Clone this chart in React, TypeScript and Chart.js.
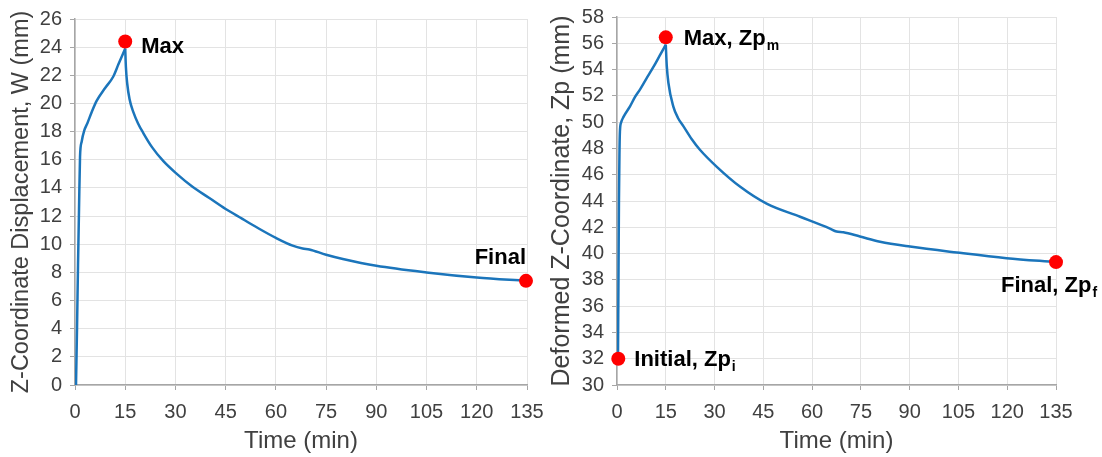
import React, { useEffect, useRef } from "react";
import { Chart, registerables } from "chart.js";

Chart.register(...registerables);
Chart.defaults.font.family = '"Liberation Sans", Arial, Helvetica, sans-serif';

// ---------- data ----------
const xTicksStep = 15;

const timeW = [0.3, 0.6, 0.9, 1.2, 1.5, 2.0, 2.8, 3.7, 5, 6.5, 9, 11.4, 13, 15, 15.2, 15.6, 16.3, 17.4, 18.8, 20.4, 23, 26.4, 30.4, 35, 40, 45, 50, 55, 60, 65, 68, 70, 75, 80, 90, 105, 120, 134.7];
const dispW = [0, 4, 8.5, 12.5, 16.2, 17.3, 18.1, 18.6, 19.4, 20.2, 21.1, 21.9, 22.8, 23.9, 22.6, 21.4, 20.3, 19.4, 18.6, 17.9, 16.9, 15.9, 15.0, 14.1, 13.3, 12.5, 11.8, 11.1, 10.45, 9.9, 9.7, 9.63, 9.25, 8.95, 8.47, 8.0, 7.64, 7.4];

const timeZp = [0.3, 0.45, 0.6, 0.75, 0.9, 1.3, 2, 4, 5.5, 7.1, 9, 11.2, 13, 15, 15.3, 15.8, 17.3, 18.8, 20.4, 23, 25.5, 30.7, 37.8, 46, 56.3, 65.5, 67.5, 69.6, 74.7, 80.9, 90.1, 104.5, 119.8, 135];
const valZp = [32, 38, 44, 47.5, 49.3, 50, 50.4, 51.2, 51.9, 52.5, 53.3, 54.2, 55, 55.9, 54.3, 53, 51.2, 50.3, 49.7, 48.7, 47.9, 46.6, 45.1, 43.8, 42.8, 41.9, 41.68, 41.62, 41.3, 40.9, 40.53, 40.08, 39.65, 39.35];

const markersW = [
  { x: 15, y: 24.4 },
  { x: 134.7, y: 7.4 },
];
const labelsW = ["Max", "Final"];
const subsW = ["", ""];

const markersZp = [
  { x: 0.4, y: 32 },
  { x: 15, y: 56.45 },
  { x: 135, y: 39.35 },
];
const labelsZp = ["Initial, Zp", "Max, Zp", "Final, Zp"];
const subsZp = ["i", "m", "f"];

// ---------- styles / placement (not data) ----------
const labelOffsetsW = [
  { dx: 16, dy: 11.5, align: "left" },
  { dx: 0, dy: -17, align: "right" },
];
const labelOffsetsZp = [
  { dx: 16, dy: 7.5, align: "left" },
  { dx: 18, dy: 8, align: "left" },
  { dx: -55, dy: 29.5, align: "left" },
];

const TEXT = "#404040";
const GRID = "#e3e3e3";
const AXIS = "#a6a6a6";
const LINE = "#1b75bb";

const labelPlugin = {
  id: "pointLabels",
  afterDatasetsDraw(chart: any, _args: any, opts: any) {
    const { ctx } = chart;
    const xs = chart.scales.x;
    const ys = chart.scales.y;
    const items = opts.items || [];
    items.forEach((l: any) => {
      const px = xs.getPixelForValue(l.x);
      const py = ys.getPixelForValue(l.y);
      ctx.save();
      ctx.fillStyle = "#000";
      ctx.textBaseline = "alphabetic";
      ctx.textAlign = "left";
      const mainFont = 'bold 22px "Liberation Sans", Arial, sans-serif';
      const subFont = 'bold 14px "Liberation Sans", Arial, sans-serif';
      ctx.font = mainFont;
      const w = ctx.measureText(l.text).width;
      ctx.font = subFont;
      const ws = l.sub ? ctx.measureText(l.sub).width + 1 : 0;
      let x0 = px + l.dx;
      if (l.align === "right") x0 -= w + ws;
      const y0 = py + l.dy;
      ctx.font = mainFont;
      ctx.fillText(l.text, x0, y0);
      if (l.sub) {
        ctx.font = subFont;
        ctx.fillText(l.sub, x0 + w + 1, y0 + 5);
      }
      ctx.restore();
    });
  },
};

type PanelProps = {
  width: number;
  height: number;
  times: number[];
  values: number[];
  markers: { x: number; y: number }[];
  labels: string[];
  subs: string[];
  offsets: { dx: number; dy: number; align: string }[];
  yMin: number;
  yMax: number;
  yTitle: string;
  yTitleSize: number;
  yAxisWidth: number;
  yTitlePad: number;
  padding: { left: number; right: number; top: number; bottom: number };
};

function Panel(p: PanelProps) {
  const ref = useRef<HTMLCanvasElement | null>(null);
  useEffect(() => {
    if (!ref.current) return;
    const pts = p.times.map((t, i) => ({ x: t, y: p.values[i] }));
    let peak = 0;
    p.values.forEach((v, i) => {
      if (v > p.values[peak]) peak = i;
    });
    const rise = pts.slice(0, peak + 1);
    const decay = pts.slice(peak);
    const items = p.markers.map((m, i) => ({
      x: m.x,
      y: m.y,
      text: p.labels[i],
      sub: p.subs[i],
      dx: p.offsets[i].dx,
      dy: p.offsets[i].dy,
      align: p.offsets[i].align,
    }));
    const lineDs = (data: any[]) => ({
      data,
      borderColor: LINE,
      borderWidth: 2.5,
      pointRadius: 0,
      cubicInterpolationMode: "monotone",
      fill: false,
      order: 1,
    });
    const chart = new Chart(ref.current, {
      type: "line",
      data: {
        datasets: [
          {
            data: p.markers,
            showLine: false,
            pointRadius: 7,
            pointHoverRadius: 7,
            pointBackgroundColor: "#ff0000",
            pointBorderWidth: 0,
            borderColor: "#ff0000",
            clip: false,
            order: 0,
          } as any,
          lineDs(rise) as any,
          lineDs(decay) as any,
        ],
      },
      options: {
        animation: false,
        responsive: false,
        maintainAspectRatio: false,
        layout: { padding: p.padding },
        plugins: {
          legend: { display: false },
          tooltip: { enabled: false },
          pointLabels: { items },
        } as any,
        scales: {
          x: {
            type: "linear",
            min: 0,
            max: 135,
            ticks: {
              stepSize: xTicksStep,
              color: TEXT,
              font: { size: 20 },
              padding: 10,
              maxRotation: 0,
              autoSkip: false,
            },
            grid: { color: GRID, tickColor: AXIS, tickLength: 5, lineWidth: 1 },
            border: { color: AXIS, width: 1.5 },
            title: {
              display: true,
              text: "Time (min)",
              color: TEXT,
              font: { size: 24 },
              padding: { top: 0, bottom: 1 },
            },
            afterFit: (s: any) => {
              s.height = 72;
              s.paddingLeft = 0;
              s.paddingRight = 0;
            },
          },
          y: {
            type: "linear",
            min: p.yMin,
            max: p.yMax,
            ticks: {
              stepSize: 2,
              color: TEXT,
              font: { size: 20 },
              padding: 8,
              autoSkip: false,
            },
            grid: { color: GRID, tickColor: AXIS, tickLength: 5, lineWidth: 1 },
            border: { color: AXIS, width: 1.5 },
            title: {
              display: true,
              text: p.yTitle,
              color: TEXT,
              font: { size: p.yTitleSize },
              padding: { top: p.yTitlePad, bottom: 0 },
            },
            afterFit: (s: any) => {
              s.width = p.yAxisWidth;
              s.paddingTop = 0;
              s.paddingBottom = 0;
            },
          },
        },
      } as any,
      plugins: [labelPlugin as any],
    });
    return () => chart.destroy();
  }, []);
  return (
    <canvas
      ref={ref}
      width={p.width}
      height={p.height}
      style={{ width: p.width, height: p.height, display: "block" }}
    />
  );
}

export default function App() {
  return (
    <div
      style={{
        position: "absolute",
        left: 0,
        top: 0,
        width: 1102,
        height: 457,
        background: "#fff",
        display: "flex",
      }}
    >
      <Panel
        width={545}
        height={457}
        times={timeW}
        values={dispW}
        markers={markersW}
        labels={labelsW}
        subs={subsW}
        offsets={labelOffsetsW}
        yMin={0}
        yMax={26}
        yTitle="Z-Coordinate Displacement, W (mm)"
        yTitleSize={23.5}
        yAxisWidth={75}
        yTitlePad={7}
        padding={{ left: 0, right: 18, top: 19, bottom: 0 }}
      />
      <Panel
        width={557}
        height={457}
        times={timeZp}
        values={valZp}
        markers={markersZp}
        labels={labelsZp}
        subs={subsZp}
        offsets={labelOffsetsZp}
        yMin={30}
        yMax={58}
        yTitle="Deformed Z-Coordinate, Zp (mm)"
        yTitleSize={25}
        yAxisWidth={72}
        yTitlePad={2}
        padding={{ left: 0, right: 46, top: 17, bottom: 0 }}
      />
    </div>
  );
}
